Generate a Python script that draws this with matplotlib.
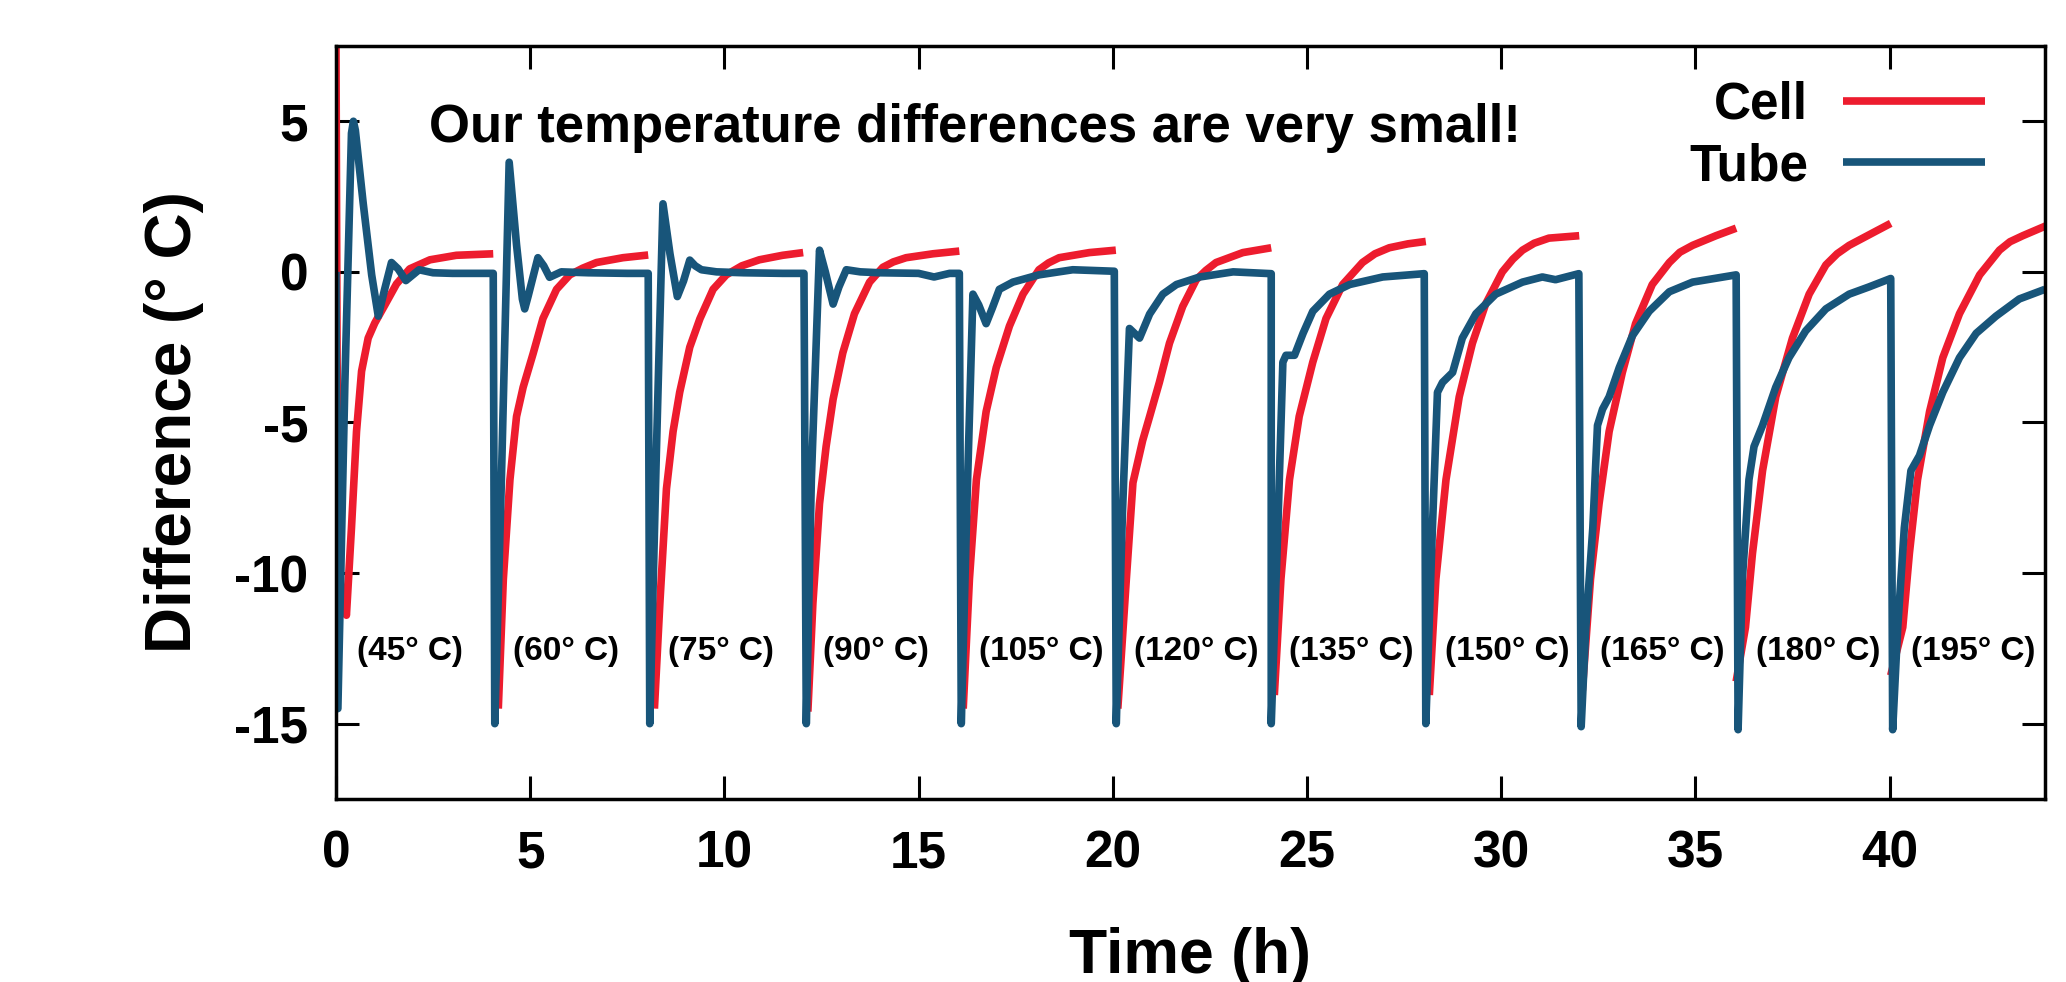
import matplotlib
matplotlib.use("Agg")
import matplotlib.pyplot as plt
import numpy as np

plt.rcParams['font.family'] = ['Liberation Sans', 'DejaVu Sans']
plt.rcParams['font.weight'] = 'bold'
plt.rcParams['axes.unicode_minus'] = False

# start of each heating step (h) and its set temperature
step_start = [0, 4, 8, 12, 16, 20, 24, 28, 32, 36, 40]
step_temp = [45, 60, 75, 90, 105, 120, 135, 150, 165, 180, 195]

# Cell difference, one list per step
cell_time = [
    [0.0, 0.03, 0.12, 0.27, 0.40, 0.53, 0.66, 0.83, 1.0, 1.26, 1.56, 1.9, 2.42, 3.1, 4.05],
    [4.18, 4.31, 4.48, 4.65, 4.82, 5.08, 5.33, 5.68, 6.02, 6.35, 6.71, 7.39, 8.04],
    [8.2, 8.34, 8.51, 8.68, 8.85, 9.11, 9.37, 9.71, 10.05, 10.45, 10.9, 11.5, 12.03],
    [12.15, 12.28, 12.45, 12.62, 12.8, 13.05, 13.35, 13.74, 14.08, 14.35, 14.68, 15.37, 16.05],
    [16.15, 16.31, 16.49, 16.74, 17.0, 17.34, 17.69, 18.1, 18.35, 18.62, 19.4, 20.08],
    [20.13, 20.35, 20.52, 20.77, 20.95, 21.2, 21.46, 21.8, 22.15, 22.4, 22.66, 23.35, 24.08],
    [24.16, 24.33, 24.55, 24.8, 25.15, 25.49, 25.92, 26.43, 26.75, 27.12, 27.6, 28.06],
    [28.15, 28.32, 28.58, 28.92, 29.26, 29.6, 30.03, 30.3, 30.55, 30.85, 31.23, 32.01],
    [32.09, 32.3, 32.52, 32.78, 33.12, 33.46, 33.89, 34.33, 34.6, 34.93, 35.53, 36.05],
    [36.05, 36.29, 36.47, 36.73, 37.07, 37.5, 37.93, 38.36, 38.65, 38.96, 39.56, 40.03],
    [40.03, 40.34, 40.51, 40.72, 41.03, 41.37, 41.8, 42.32, 42.83, 43.1, 43.43, 44.03],
]
cell_diff = [
    [8.0, -3.0, -10.5, -11.4, -8.5, -5.3, -3.3, -2.2, -1.7, -1.1, -0.4, 0.1, 0.4, 0.55, 0.6],
    [-14.5, -10.2, -6.9, -4.8, -3.83, -2.7, -1.55, -0.58, -0.1, 0.12, 0.31, 0.47, 0.56],
    [-14.5, -11.0, -7.2, -5.3, -4.0, -2.5, -1.56, -0.58, -0.1, 0.2, 0.4, 0.55, 0.64],
    [-14.6, -11.0, -7.7, -5.8, -4.23, -2.69, -1.39, -0.34, 0.15, 0.33, 0.47, 0.6, 0.69],
    [-14.5, -10.2, -6.9, -4.64, -3.18, -1.8, -0.74, 0.07, 0.3, 0.47, 0.64, 0.72],
    [-14.5, -10.2, -7.0, -5.6, -4.8, -3.67, -2.37, -1.15, -0.26, 0.05, 0.31, 0.64, 0.8],
    [-14.05, -10.2, -6.9, -4.8, -3.0, -1.55, -0.42, 0.31, 0.6, 0.8, 0.93, 1.01],
    [-14.05, -10.2, -6.9, -4.15, -2.37, -1.07, 0.0, 0.42, 0.72, 0.95, 1.12, 1.2],
    [-13.9, -10.2, -7.7, -5.3, -3.34, -1.72, -0.42, 0.31, 0.65, 0.88, 1.2, 1.45],
    [-13.6, -11.8, -9.35, -6.6, -4.15, -2.2, -0.74, 0.23, 0.6, 0.88, 1.29, 1.61],
    [-13.4, -11.8, -9.35, -6.9, -4.64, -2.85, -1.39, -0.1, 0.72, 1.0, 1.2, 1.53],
]

# Tube difference, one list per step
tube_time = [
    [0.0, 0.05, 0.23, 0.40, 0.45, 0.5, 0.7, 0.92, 1.09, 1.25, 1.43, 1.6, 1.8, 2.14, 2.5, 3.0, 3.5, 4.05],
    [4.09, 4.26, 4.46, 4.65, 4.8, 4.86, 4.95, 5.2, 5.35, 5.5, 5.8, 6.5, 7.5, 8.04],
    [8.08, 8.25, 8.42, 8.6, 8.79, 8.95, 9.11, 9.25, 9.41, 9.8, 10.5, 11.5, 12.05],
    [12.11, 12.24, 12.45, 12.6, 12.8, 12.95, 13.14, 13.5, 14.0, 15.0, 15.4, 15.8, 16.05],
    [16.1, 16.25, 16.4, 16.55, 16.74, 16.9, 17.08, 17.43, 18.1, 18.97, 20.04],
    [20.09, 20.25, 20.43, 20.69, 20.95, 21.29, 21.64, 22.24, 23.1, 24.08],
    [24.08, 24.25, 24.38, 24.46, 24.68, 24.9, 25.15, 25.58, 26.1, 26.95, 28.02],
    [28.06, 28.23, 28.36, 28.49, 28.75, 29.0, 29.35, 29.86, 30.55, 31.06, 31.4, 32.0],
    [32.06, 32.18, 32.36, 32.48, 32.61, 32.78, 33.04, 33.38, 33.81, 34.33, 34.93, 36.05],
    [36.1, 36.21, 36.38, 36.51, 36.73, 37.07, 37.41, 37.84, 38.36, 38.96, 39.47, 40.03],
    [40.08, 40.21, 40.38, 40.55, 40.77, 41.03, 41.37, 41.8, 42.23, 42.74, 43.34, 44.0],
]
tube_diff = [
    [0.0, -14.5, -3.7, 4.6, 5.0, 4.7, 2.3, -0.1, -1.47, -0.6, 0.31, 0.1, -0.29, 0.07, -0.03, -0.05, -0.05, -0.05],
    [-15.0, -6.9, 3.64, 0.9, -0.9, -1.23, -0.8, 0.47, 0.2, -0.18, 0.0, -0.03, -0.05, -0.05],
    [-15.0, -6.0, 2.26, 0.6, -0.82, -0.3, 0.39, 0.2, 0.07, 0.0, -0.03, -0.05, -0.05],
    [-15.0, -6.9, 0.72, 0.0, -1.07, -0.5, 0.07, 0.0, -0.03, -0.05, -0.17, -0.05, -0.05],
    [-15.0, -7.5, -0.74, -1.1, -1.72, -1.2, -0.58, -0.34, -0.1, 0.07, 0.02],
    [-15.0, -8.0, -1.88, -2.2, -1.4, -0.74, -0.42, -0.17, 0.0, -0.06],
    [-15.0, -8.5, -3.0, -2.77, -2.77, -2.04, -1.31, -0.74, -0.42, -0.17, -0.06],
    [-15.0, -8.5, -4.0, -3.67, -3.34, -2.2, -1.39, -0.74, -0.34, -0.17, -0.26, -0.06],
    [-15.1, -11.8, -8.5, -5.1, -4.56, -4.15, -3.18, -2.12, -1.31, -0.66, -0.34, -0.1],
    [-15.2, -10.2, -6.9, -5.8, -5.1, -3.83, -2.85, -1.96, -1.23, -0.74, -0.5, -0.22],
    [-15.2, -11.8, -8.5, -6.6, -6.1, -5.1, -4.0, -2.85, -2.04, -1.47, -0.9, -0.58],
]

red = '#ed1c2e'
blue = '#18557a'

fig = plt.figure(figsize=(20.66, 9.82), dpi=100)
ax = fig.add_axes([0.1626, 0.1864, 0.8272, 0.7668])

for k in range(len(cell_time)):
    ax.plot(cell_time[k], cell_diff[k], color=red, lw=5.5,
            solid_joinstyle='round', solid_capstyle='butt',
            label='Cell' if k == 0 else None)
ax.plot(np.concatenate(tube_time), np.concatenate(tube_diff), color=blue, lw=5.5,
        solid_joinstyle='round', solid_capstyle='butt', label='Tube')

for start, temp in zip(step_start, step_temp):
    ax.text(start + 0.55, -12.6, f'({temp}° C)', fontsize=24, ha='left', va='center')

ax.text(16.44, 4.3, 'Our temperature differences are very small!', fontsize=38,
        ha='center', va='baseline')

ax.set_xlim(0, 44)
ax.set_ylim(-17.5, 7.5)
ax.set_xticks(np.arange(0, 41, 5))
ax.set_yticks(np.arange(-15, 6, 5))
ax.tick_params(direction='in', length=16.5, width=2.2, top=True, right=True,
               labelsize=37)
ax.tick_params(axis='x', pad=22)
ax.tick_params(axis='y', pad=20)
for s in ax.spines.values():
    s.set_linewidth(2.5)

ax.set_xlabel('Time (h)', fontsize=45, fontweight='bold', va='baseline')
ax.xaxis.set_label_coords(0.5, -0.231)
ax.set_ylabel('Difference (° C)', fontsize=46, fontweight='bold', va='center')
ax.yaxis.set_label_coords(-0.0948, 0.5)

ax.legend(loc='upper right', bbox_to_anchor=(0.965, 0.954), frameon=False,
          markerfirst=False, prop={'weight': 'bold', 'size': 37},
          handlelength=2.76, handletextpad=0.68, labelspacing=0.25,
          borderaxespad=0, borderpad=0)

plt.savefig('out.png', dpi=100)
